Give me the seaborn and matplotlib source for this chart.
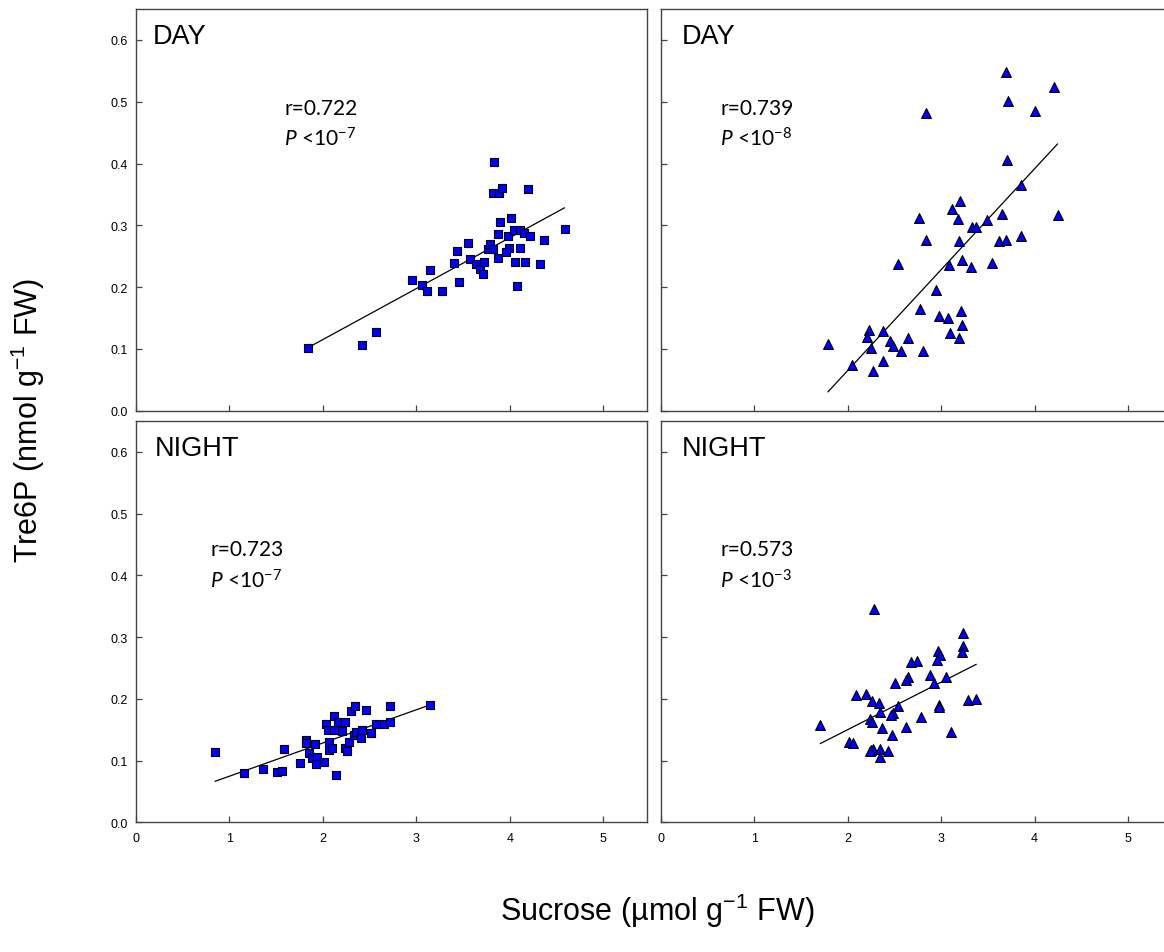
import numpy as np
import pandas as pd
import matplotlib
matplotlib.use("Agg")
import matplotlib.pyplot as plt
import seaborn as sns

# ---------------- data ----------------
day_sq_x = [1.843, 2.414, 2.567, 2.958, 3.055, 3.115, 3.144, 3.269, 3.404, 3.433,
            3.451, 3.547, 3.575, 3.633, 3.679, 3.708, 3.719, 3.762, 3.786, 3.818,
            3.829, 3.818, 3.879, 3.914, 3.896, 3.872, 3.868, 3.975, 3.986, 3.957,
            4.016, 4.045, 4.107, 4.153, 4.107, 4.053, 4.157, 4.080, 4.191, 4.217,
            4.364, 4.318, 4.585]
day_sq_y = [0.102, 0.106, 0.127, 0.212, 0.203, 0.194, 0.228, 0.193, 0.239, 0.259,
            0.209, 0.271, 0.246, 0.238, 0.229, 0.221, 0.240, 0.261, 0.270, 0.261,
            0.402, 0.352, 0.352, 0.360, 0.306, 0.286, 0.247, 0.282, 0.263, 0.257,
            0.312, 0.292, 0.293, 0.287, 0.263, 0.240, 0.240, 0.202, 0.359, 0.282,
            0.277, 0.238, 0.294]

day_tri_x = [3.693, 4.206, 3.715, 4.006, 2.837, 3.701, 3.857, 3.197, 3.112, 2.759,
             3.183, 3.647, 4.246, 3.487, 3.326, 3.372, 2.834, 3.187, 3.618, 3.693,
             3.857, 2.535, 3.080, 3.226, 3.322, 3.540, 2.941, 2.777, 3.212, 2.973,
             3.069, 3.226, 3.094, 3.190, 2.228, 2.374, 2.203, 1.789, 2.456, 2.648,
             2.481, 2.246, 2.570, 2.805, 2.374, 2.046, 2.274]
day_tri_y = [0.548, 0.523, 0.501, 0.485, 0.482, 0.406, 0.366, 0.340, 0.327, 0.312,
             0.310, 0.319, 0.317, 0.308, 0.297, 0.297, 0.276, 0.274, 0.275, 0.276,
             0.282, 0.238, 0.235, 0.244, 0.232, 0.239, 0.195, 0.165, 0.162, 0.154,
             0.150, 0.139, 0.125, 0.117, 0.131, 0.129, 0.120, 0.108, 0.112, 0.117,
             0.104, 0.102, 0.097, 0.096, 0.080, 0.074, 0.064]

night_sq_x = [0.845, 1.152, 1.358, 1.504, 1.561, 1.586, 1.751, 1.818, 1.818, 1.847,
              1.882, 1.914, 1.938, 1.931, 2.010, 2.028, 2.049, 2.063, 2.060, 2.102,
              2.117, 2.120, 2.135, 2.164, 2.203, 2.232, 2.232, 2.253, 2.274, 2.296,
              2.338, 2.331, 2.352, 2.402, 2.416, 2.459, 2.512, 2.565, 2.651, 2.715,
              2.712, 3.142]
night_sq_y = [0.114, 0.080, 0.086, 0.082, 0.083, 0.118, 0.096, 0.134, 0.128, 0.113,
              0.104, 0.127, 0.105, 0.094, 0.097, 0.160, 0.150, 0.130, 0.117, 0.121,
              0.172, 0.149, 0.077, 0.162, 0.148, 0.163, 0.120, 0.116, 0.130, 0.180,
              0.189, 0.141, 0.146, 0.136, 0.150, 0.182, 0.145, 0.159, 0.160, 0.162,
              0.188, 0.190]

night_tri_x = [2.281, 3.233, 3.237, 3.226, 2.966, 2.987, 2.952, 2.741, 2.677, 2.642,
               2.627, 2.509, 2.884, 3.051, 2.920, 2.092, 2.199, 2.260, 2.338, 2.541,
               2.345, 2.481, 2.463, 2.980, 2.977, 3.283, 3.376, 2.784, 2.242, 2.260,
               2.364, 2.624, 1.707, 3.102, 2.477, 2.011, 2.053, 2.249, 2.271, 2.342,
               2.434, 2.345, 2.235]
night_tri_y = [0.345, 0.306, 0.286, 0.276, 0.277, 0.271, 0.263, 0.262, 0.259, 0.236,
               0.231, 0.225, 0.238, 0.235, 0.225, 0.207, 0.208, 0.196, 0.194, 0.189,
               0.178, 0.177, 0.174, 0.190, 0.186, 0.198, 0.199, 0.170, 0.167, 0.163,
               0.153, 0.155, 0.157, 0.147, 0.141, 0.130, 0.129, 0.117, 0.119, 0.119,
               0.115, 0.105, 0.116]

panel_titles = ["DAY", "DAY", "NIGHT", "NIGHT"]
r_labels = ["r=0.722", "r=0.739", "r=0.723", "r=0.573"]
p_exponents = ["-7", "-8", "-7", "-3"]
x_ticks = [0, 1, 2, 3, 4, 5]
y_ticks = [0.0, 0.1, 0.2, 0.3, 0.4, 0.5, 0.6]
x_label = "Sucrose (µmol g$^{-1}$ FW)"
y_label = "Tre6P (nmol g$^{-1}$ FW)"

# ---------------- style ----------------
sns.set_theme(style="white")
plt.rcParams["font.family"] = ["Liberation Sans", "DejaVu Sans"]
plt.rcParams["text.color"] = "black"
plt.rcParams["axes.labelcolor"] = "black"
plt.rcParams["xtick.color"] = "black"
plt.rcParams["ytick.color"] = "black"
plt.rcParams["mathtext.fontset"] = "custom"
plt.rcParams["mathtext.it"] = "Lato:italic"
plt.rcParams["mathtext.rm"] = "Lato"
plt.rcParams["mathtext.default"] = "regular"

W, H = 1164, 953
fig = plt.figure(figsize=(W / 100, H / 100), dpi=100)

def px_axes(x0, y0, x1, y1):
    return fig.add_axes([x0 / W, 1 - y1 / H, (x1 - x0) / W, (y1 - y0) / H])

ax_w = 511.3
boxes = [
    (136.0, 10.0, 136.0 + ax_w, 411.7),
    (660.7, 10.0, 660.7 + ax_w, 411.7),
    (136.0, 422.0, 136.0 + ax_w, 823.3),
    (660.7, 422.0, 660.7 + ax_w, 823.3),
]
axes = [px_axes(*b) for b in boxes]

datasets = [
    (day_sq_x, day_sq_y, "s", 38),
    (day_tri_x, day_tri_y, "^", 50),
    (night_sq_x, night_sq_y, "s", 38),
    (night_tri_x, night_tri_y, "^", 50),
]

text_pos = [
    (0.033, 0.915, 0.2895, 0.739, 0.660),
    (0.042, 0.915, 0.116, 0.739, 0.660),
    (0.037, 0.915, 0.145, 0.665, 0.585),
    (0.042, 0.915, 0.116, 0.665, 0.585),
]

for i, ax in enumerate(axes):
    xs, ys, mk, sz = datasets[i]
    df = pd.DataFrame({"x": xs, "y": ys})
    sns.regplot(data=df, x="x", y="y", ax=ax, scatter=False, ci=None,
                line_kws=dict(color="black", lw=0.9), truncate=True)
    sns.scatterplot(data=df, x="x", y="y", ax=ax, marker=mk, s=sz,
                    color="#0000FF", edgecolor="black", linewidth=0.8, zorder=3)
    ax.set_xlim(0, 5.47)
    ax.set_ylim(0, 0.65)
    ax.set_xticks(x_ticks)
    ax.set_yticks(y_ticks)
    ax.set_xlabel("")
    ax.set_ylabel("")
    ax.tick_params(axis="both", direction="in", length=4, width=0.9,
                   color="#444444", labelcolor="black", labelsize=9,
                   bottom=True, left=True, top=False, right=False)
    ax.tick_params(axis="x", pad=7)
    ax.tick_params(axis="y", pad=6)
    if i in (0, 2):
        ax.set_yticklabels([f"{v:.1f}" for v in y_ticks])
    else:
        ax.set_yticklabels([])
    if i in (2, 3):
        ax.set_xticklabels([str(v) for v in x_ticks])
    else:
        ax.set_xticklabels([])
    for sp in ax.spines.values():
        sp.set_color("#444444")
        sp.set_linewidth(1.0)
        sp.set_visible(True)

    tx, ty, rx, ry, py = text_pos[i]
    ax.text(tx, ty, panel_titles[i], transform=ax.transAxes, fontsize=19.5,
            va="baseline", ha="left", color="black")
    ax.text(rx, ry, r_labels[i], transform=ax.transAxes, fontsize=15,
            family=["Lato", "DejaVu Sans"], va="baseline", ha="left",
            color="black")
    ax.text(rx, py, r"$\it{P}$ <10$^{" + p_exponents[i] + "}$",
            transform=ax.transAxes, fontsize=15, color="black",
            family=["Lato", "DejaVu Sans"], va="baseline", ha="left")

fig.text(28 / W, 1 - 421 / H, y_label, rotation=90, ha="center", va="center",
         fontsize=22, color="black")
fig.text(657 / W, 1 - 911 / H, x_label, ha="center", va="center", fontsize=22,
         color="black")

fig.savefig("out.png", dpi=100)
